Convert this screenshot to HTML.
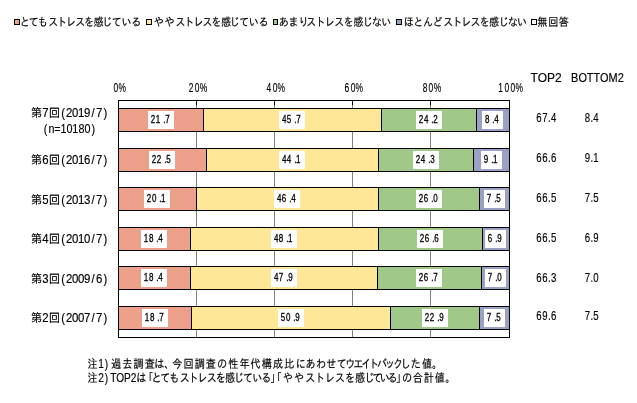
<!DOCTYPE html>
<html lang="ja"><head><meta charset="utf-8"><title>ストレスを感じている</title>
<style>html,body{margin:0;padding:0;background:#fff}svg{display:block}text{fill:#000;stroke:#000;stroke-width:0.15px;font-family:'Liberation Sans', 'IPAGothic', sans-serif}.b{stroke-width:.3px}</style></head><body>
<svg width="637" height="403" viewBox="0 0 637 403">
<rect x="0" y="0" width="637" height="403" fill="#fff"/>
<rect x="14.5" y="19.5" width="5" height="5" fill="#EDA089" stroke="#000" stroke-width="1"/>
<rect x="146.5" y="19.5" width="5" height="5" fill="#FEE796" stroke="#000" stroke-width="1"/>
<rect x="273.5" y="19.5" width="4" height="5" fill="#9FC889" stroke="#000" stroke-width="1"/>
<rect x="396.5" y="19.5" width="5" height="5" fill="#9AA1C6" stroke="#000" stroke-width="1"/>
<rect x="531.5" y="19.5" width="5" height="5" fill="#FFFFFF" stroke="#000" stroke-width="1"/>
<line x1="196.5" y1="101" x2="196.5" y2="337" stroke="#808080" stroke-width="1"/>
<line x1="196.5" y1="101" x2="196.5" y2="105" stroke="#000" stroke-width="1"/>
<line x1="274.5" y1="101" x2="274.5" y2="337" stroke="#808080" stroke-width="1"/>
<line x1="274.5" y1="101" x2="274.5" y2="105" stroke="#000" stroke-width="1"/>
<line x1="352.5" y1="101" x2="352.5" y2="337" stroke="#808080" stroke-width="1"/>
<line x1="352.5" y1="101" x2="352.5" y2="105" stroke="#000" stroke-width="1"/>
<line x1="430.5" y1="101" x2="430.5" y2="337" stroke="#808080" stroke-width="1"/>
<line x1="430.5" y1="101" x2="430.5" y2="105" stroke="#000" stroke-width="1"/>
<rect x="118.5" y="100.5" width="391" height="237" fill="none" stroke="#000" stroke-width="1"/>
<rect x="118.5" y="108.5" width="85.0" height="23" fill="#EDA089" stroke="#000" stroke-width="1"/>
<rect x="148" y="111" width="26" height="18" fill="#fff"/>
<rect x="203.5" y="108.5" width="178.0" height="23" fill="#FEE796" stroke="#000" stroke-width="1"/>
<rect x="279" y="111" width="26" height="18" fill="#fff"/>
<rect x="381.5" y="108.5" width="95.0" height="23" fill="#9FC889" stroke="#000" stroke-width="1"/>
<rect x="416" y="111" width="26" height="18" fill="#fff"/>
<rect x="476.5" y="108.5" width="33.0" height="23" fill="#9AA1C6" stroke="#000" stroke-width="1"/>
<rect x="482" y="111" width="21" height="18" fill="#fff"/>
<rect x="118.5" y="148.5" width="88.0" height="23" fill="#EDA089" stroke="#000" stroke-width="1"/>
<rect x="149" y="151" width="26" height="18" fill="#fff"/>
<rect x="206.5" y="148.5" width="172.0" height="23" fill="#FEE796" stroke="#000" stroke-width="1"/>
<rect x="279" y="151" width="26" height="18" fill="#fff"/>
<rect x="378.5" y="148.5" width="95.0" height="23" fill="#9FC889" stroke="#000" stroke-width="1"/>
<rect x="413" y="151" width="26" height="18" fill="#fff"/>
<rect x="473.5" y="148.5" width="36.0" height="23" fill="#9AA1C6" stroke="#000" stroke-width="1"/>
<rect x="481" y="151" width="21" height="18" fill="#fff"/>
<rect x="118.5" y="187.5" width="78.0" height="23" fill="#EDA089" stroke="#000" stroke-width="1"/>
<rect x="144" y="190" width="26" height="18" fill="#fff"/>
<rect x="196.5" y="187.5" width="182.0" height="23" fill="#FEE796" stroke="#000" stroke-width="1"/>
<rect x="274" y="190" width="26" height="18" fill="#fff"/>
<rect x="378.5" y="187.5" width="101.0" height="23" fill="#9FC889" stroke="#000" stroke-width="1"/>
<rect x="416" y="190" width="26" height="18" fill="#fff"/>
<rect x="479.5" y="187.5" width="30.0" height="23" fill="#9AA1C6" stroke="#000" stroke-width="1"/>
<rect x="484" y="190" width="21" height="18" fill="#fff"/>
<rect x="118.5" y="227.5" width="72.0" height="23" fill="#EDA089" stroke="#000" stroke-width="1"/>
<rect x="141" y="230" width="26" height="18" fill="#fff"/>
<rect x="190.5" y="227.5" width="188.0" height="23" fill="#FEE796" stroke="#000" stroke-width="1"/>
<rect x="271" y="230" width="26" height="18" fill="#fff"/>
<rect x="378.5" y="227.5" width="104.0" height="23" fill="#9FC889" stroke="#000" stroke-width="1"/>
<rect x="417" y="230" width="26" height="18" fill="#fff"/>
<rect x="482.5" y="227.5" width="27.0" height="23" fill="#9AA1C6" stroke="#000" stroke-width="1"/>
<rect x="485" y="230" width="21" height="18" fill="#fff"/>
<rect x="118.5" y="266.5" width="72.0" height="23" fill="#EDA089" stroke="#000" stroke-width="1"/>
<rect x="141" y="269" width="26" height="18" fill="#fff"/>
<rect x="190.5" y="266.5" width="187.0" height="23" fill="#FEE796" stroke="#000" stroke-width="1"/>
<rect x="271" y="269" width="26" height="18" fill="#fff"/>
<rect x="377.5" y="266.5" width="104.0" height="23" fill="#9FC889" stroke="#000" stroke-width="1"/>
<rect x="416" y="269" width="26" height="18" fill="#fff"/>
<rect x="481.5" y="266.5" width="28.0" height="23" fill="#9AA1C6" stroke="#000" stroke-width="1"/>
<rect x="485" y="269" width="21" height="18" fill="#fff"/>
<rect x="118.5" y="306.5" width="73.0" height="23" fill="#EDA089" stroke="#000" stroke-width="1"/>
<rect x="142" y="309" width="26" height="18" fill="#fff"/>
<rect x="191.5" y="306.5" width="199.0" height="23" fill="#FEE796" stroke="#000" stroke-width="1"/>
<rect x="278" y="309" width="26" height="18" fill="#fff"/>
<rect x="390.5" y="306.5" width="89.0" height="23" fill="#9FC889" stroke="#000" stroke-width="1"/>
<rect x="422" y="309" width="26" height="18" fill="#fff"/>
<rect x="479.5" y="306.5" width="30.0" height="23" fill="#9AA1C6" stroke="#000" stroke-width="1"/>
<rect x="484" y="309" width="21" height="18" fill="#fff"/>
<text transform="translate(0,26.02) scale(0.920,1.040)" font-size="11" x="21.4 31.2 40.9 52.4 62.0 71.8 81.7 91.4 101.7 111.0 121.6 132.2 142.7">とてもストレスを感じている</text>
<text transform="translate(0,26.02) scale(0.920,1.040)" font-size="11" x="167.1 178.8 190.8 200.4 210.2 220.0 229.7 240.1 249.4 260.0 270.5 281.1">ややストレスを感じている</text>
<text transform="translate(0,26.02) scale(0.920,1.040)" font-size="11" x="302.9 313.7 324.4 332.8 342.9 353.1 363.3 373.4 383.9 394.0 404.2 414.3">あまりストレスを感じない</text>
<text transform="translate(0,26.02) scale(0.920,1.040)" font-size="11" x="438.9 449.3 459.8 470.2 481.7 491.5 501.5 511.4 521.3 531.5 541.9 552.0 561.9">ほとんどストレスを感じない</text>
<text transform="translate(0,26.02) scale(0.920,1.040)" font-size="11" x="584.1 595.8 607.4">無回答</text>
<text transform="translate(0,91.74) scale(0.700,1.029)" font-size="12" x="162.1 169.2">0%</text>
<text transform="translate(0,91.74) scale(0.700,1.029)" font-size="12" x="269.5 278.1 285.2">20%</text>
<text transform="translate(0,91.74) scale(0.700,1.029)" font-size="12" x="380.9 389.5 396.6">40%</text>
<text transform="translate(0,91.74) scale(0.700,1.029)" font-size="12" x="492.3 500.9 508.0">60%</text>
<text transform="translate(0,91.74) scale(0.700,1.029)" font-size="12" x="603.8 612.3 619.5">80%</text>
<text transform="translate(0,91.74) scale(0.700,1.029)" font-size="12" x="711.9 720.6 729.2 736.3">100%</text>
<text transform="translate(0,81.74) scale(1.002,1.029)" font-size="12" x="529.5 536.6 545.9 553.9">TOP2</text>
<text transform="translate(0,81.74) scale(0.912,1.029)" font-size="12" x="626.2 634.2 643.5 650.8 658.0 667.3 677.3">BOTTOM2</text>
<text transform="translate(0,121.74) scale(0.800,1.029)" font-size="12" x="670.4 677.9 685.0 688.6">67.4</text>
<text transform="translate(0,121.74) scale(0.800,1.029)" font-size="12" x="730.9 738.0 741.6">8.4</text>
<text transform="translate(0,161.74) scale(0.800,1.029)" font-size="12" x="670.4 677.9 685.0 688.6">66.6</text>
<text transform="translate(0,161.74) scale(0.800,1.029)" font-size="12" x="730.9 738.0 741.5">9.1</text>
<text transform="translate(0,201.74) scale(0.800,1.029)" font-size="12" x="670.4 677.9 685.0 688.6">66.5</text>
<text transform="translate(0,201.74) scale(0.800,1.029)" font-size="12" x="730.9 738.0 741.6">7.5</text>
<text transform="translate(0,241.74) scale(0.800,1.029)" font-size="12" x="670.4 677.9 685.0 688.6">66.5</text>
<text transform="translate(0,241.74) scale(0.800,1.029)" font-size="12" x="730.9 738.0 741.6">6.9</text>
<text transform="translate(0,281.74) scale(0.800,1.029)" font-size="12" x="670.4 677.9 685.0 688.6">66.3</text>
<text transform="translate(0,281.74) scale(0.800,1.029)" font-size="12" x="730.9 738.0 741.6">7.0</text>
<text transform="translate(0,319.74) scale(0.800,1.029)" font-size="12" x="670.4 677.9 685.0 688.6">69.6</text>
<text transform="translate(0,319.74) scale(0.800,1.029)" font-size="12" x="730.9 738.0 741.6">7.5</text>
<text transform="translate(0,117.00) scale(0.950,1.000)" font-size="12" x="32.3 44.6 51.4 64.4 69.5 75.8 82.0 88.4 96.4 101.0 109.0">第7回(2019/7)</text>
<text transform="translate(0,164.00) scale(0.950,1.000)" font-size="12" x="32.3 44.6 51.4 64.4 69.5 75.8 82.0 88.4 96.4 101.0 109.0">第6回(2016/7)</text>
<text transform="translate(0,204.00) scale(0.950,1.000)" font-size="12" x="32.3 44.6 51.4 64.4 69.5 75.8 82.0 88.4 96.4 101.0 109.0">第5回(2013/7)</text>
<text transform="translate(0,243.00) scale(0.950,1.000)" font-size="12" x="32.3 44.6 51.4 64.4 69.5 75.8 82.0 88.4 96.4 101.0 109.0">第4回(2010/7)</text>
<text transform="translate(0,283.00) scale(0.950,1.000)" font-size="12" x="32.3 44.6 51.4 64.4 69.5 75.8 82.1 88.4 96.4 101.0 109.0">第3回(2009/6)</text>
<text transform="translate(0,322.00) scale(0.950,1.000)" font-size="12" x="32.3 44.6 51.4 64.4 69.5 75.8 82.1 88.4 96.4 101.0 109.0">第2回(2007/7)</text>
<text transform="translate(0,132.74) scale(0.900,1.029)" font-size="12" x="48.6 53.8 60.4 67.1 73.8 80.4 87.2 93.8 101.6">(n=10180)</text>
<text transform="translate(0,367.99) scale(0.920,1.080)" font-size="11" x="95.1 106.7 113.9 120.6 132.8 145.1 157.3 167.8 178.6 187.2 199.4 211.6 223.7 235.9 248.1 260.2 272.4 284.5 296.7 308.9 321.6 332.0 343.4 354.7 366.1 375.3 383.9 392.7 401.1 409.9 418.6 427.3 435.3 446.6 458.7 469.7">注1)過去調査は、今回調査の性年代構成比にあわせてウエイトバックした値。</text>
<text transform="translate(0,381.99) scale(0.920,1.080)" font-size="11" x="95.1 106.9 113.9 119.9 126.4 134.8 142.1 148.2 155.6 164.6 174.3 184.0 195.3 205.0 214.8 224.7 234.5 244.6 254.1 264.1 274.1 284.1 293.8 295.5 307.4 319.6 331.7 342.5 353.3 364.1 374.9 386.0 396.0 404.5 412.7 421.1 430.5 436.9 448.7 460.6 472.5 484.1">注2)TOP2は「とてもストレスを感じている」「ややストレスを感じている」の合計値。</text>
<text class="b" transform="translate(0,122.75) scale(0.800,1.000)" font-size="10" x="188.5 194.6 204.0 206.5">21.7</text>
<text class="b" transform="translate(0,122.75) scale(0.800,1.000)" font-size="10" x="352.4 358.6 367.8 370.2">45.7</text>
<text class="b" transform="translate(0,122.75) scale(0.800,1.000)" font-size="10" x="523.5 529.9 539.0 541.5">24.2</text>
<text class="b" transform="translate(0,122.75) scale(0.800,1.000)" font-size="10" x="606.1 615.2 617.9">8.4</text>
<text class="b" transform="translate(0,162.75) scale(0.800,1.000)" font-size="10" x="189.7 196.0 205.2 207.9">22.5</text>
<text class="b" transform="translate(0,162.75) scale(0.800,1.000)" font-size="10" x="352.4 358.6 367.8 370.1">44.1</text>
<text class="b" transform="translate(0,162.75) scale(0.800,1.000)" font-size="10" x="519.8 526.1 535.2 537.9">24.3</text>
<text class="b" transform="translate(0,162.75) scale(0.800,1.000)" font-size="10" x="604.8 614.0 616.4">9.1</text>
<text class="b" transform="translate(0,201.75) scale(0.800,1.000)" font-size="10" x="183.5 189.9 199.0 201.4">20.1</text>
<text class="b" transform="translate(0,201.75) scale(0.800,1.000)" font-size="10" x="346.1 352.2 361.5 364.1">46.4</text>
<text class="b" transform="translate(0,201.75) scale(0.800,1.000)" font-size="10" x="523.5 529.8 539.0 541.6">26.0</text>
<text class="b" transform="translate(0,201.75) scale(0.800,1.000)" font-size="10" x="608.5 617.8 620.4">7.5</text>
<text class="b" transform="translate(0,241.75) scale(0.800,1.000)" font-size="10" x="179.6 186.1 195.2 197.9">18.4</text>
<text class="b" transform="translate(0,241.75) scale(0.800,1.000)" font-size="10" x="342.4 348.6 357.8 360.1">48.1</text>
<text class="b" transform="translate(0,241.75) scale(0.800,1.000)" font-size="10" x="524.8 531.0 540.2 542.8">26.6</text>
<text class="b" transform="translate(0,241.75) scale(0.800,1.000)" font-size="10" x="609.8 619.0 621.5">6.9</text>
<text class="b" transform="translate(0,280.75) scale(0.800,1.000)" font-size="10" x="179.6 186.1 195.2 197.9">18.4</text>
<text class="b" transform="translate(0,280.75) scale(0.800,1.000)" font-size="10" x="342.4 348.5 357.8 360.2">47.9</text>
<text class="b" transform="translate(0,280.75) scale(0.800,1.000)" font-size="10" x="523.5 529.8 539.0 541.5">26.7</text>
<text class="b" transform="translate(0,280.75) scale(0.800,1.000)" font-size="10" x="609.8 619.0 621.6">7.0</text>
<text class="b" transform="translate(0,320.75) scale(0.800,1.000)" font-size="10" x="180.9 187.4 196.5 199.0">18.7</text>
<text class="b" transform="translate(0,320.75) scale(0.800,1.000)" font-size="10" x="351.1 357.4 366.5 369.0">50.9</text>
<text class="b" transform="translate(0,320.75) scale(0.800,1.000)" font-size="10" x="531.0 537.2 546.5 549.0">22.9</text>
<text class="b" transform="translate(0,320.75) scale(0.800,1.000)" font-size="10" x="608.5 617.8 620.4">7.5</text>
</svg></body></html>
